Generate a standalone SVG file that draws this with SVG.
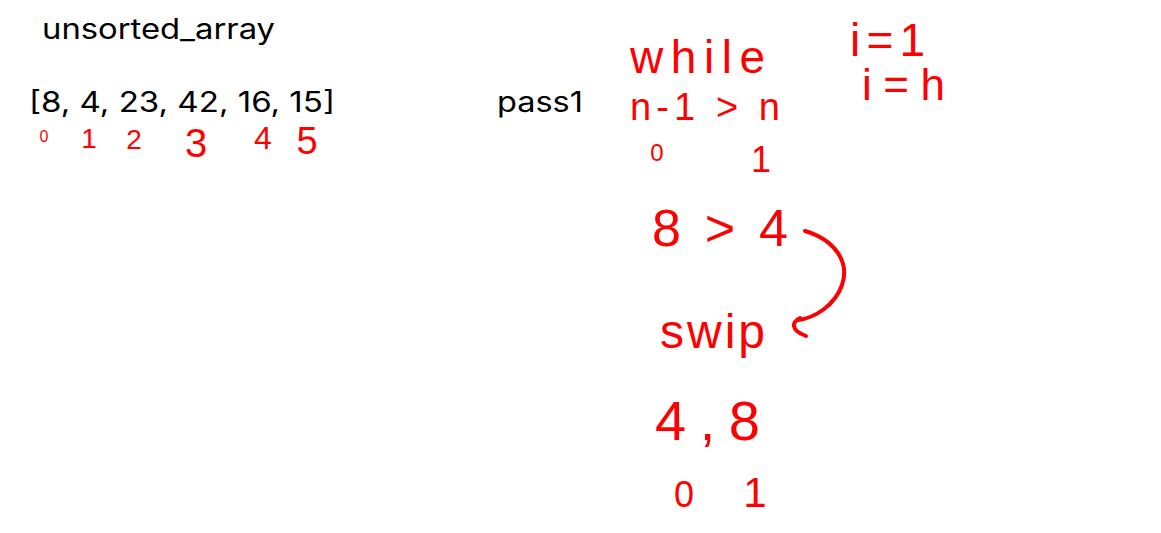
<svg xmlns="http://www.w3.org/2000/svg" width="1161" height="533" viewBox="0 0 1161 533">
<style>
.lbl{font-family:Inter,"Liberation Sans",sans-serif;font-size:28px;fill:#000}
.ink{font-family:"Liberation Sans",Arial,sans-serif;fill:#ff0000}
.stroke{fill:none;stroke:#ff0000;stroke-width:4;stroke-linecap:round;stroke-linejoin:round}
</style>
<rect width="1161" height="533" fill="#ffffff"/>
<g id="title"><text class="lbl" x="42" y="39" textLength="233" lengthAdjust="spacingAndGlyphs">unsorted_array</text></g>
<g id="array"><text class="lbl" x="29" y="112" textLength="306" lengthAdjust="spacingAndGlyphs">[8, 4, 23, 42, 16, 15]</text></g>
<g id="pass1"><text class="lbl" x="497" y="112" textLength="86" lengthAdjust="spacingAndGlyphs">pass1</text></g>
<g id="indices" class="ink" text-anchor="middle">
<text x="44" y="142" font-size="16">0</text>
<text x="89" y="148" font-size="28">1</text>
<text x="134" y="149" font-size="28">2</text>
<text x="196" y="157" font-size="40">3</text>
<text x="263" y="149" font-size="32">4</text>
<text x="307" y="154" font-size="38">5</text>
</g>
<g id="while"><text class="ink" x="630" y="73" font-size="46" textLength="135" lengthAdjust="spacing">while</text></g>
<g id="i1"><text class="ink" x="850" y="56" font-size="46" textLength="75" lengthAdjust="spacing">i=1</text></g>
<g id="ih"><text class="ink" x="862" y="100" font-size="44" textLength="83" lengthAdjust="spacing">i=h</text></g>
<g id="cond"><text class="ink" x="630" y="120" font-size="38" textLength="150" lengthAdjust="spacing">n-1 &gt; n</text></g>
<g id="idx01a" class="ink" text-anchor="middle">
<text x="657" y="161" font-size="24">0</text>
<text x="761" y="172" font-size="36">1</text>
</g>
<g id="compare"><text class="ink" x="652" y="246" font-size="52" textLength="136" lengthAdjust="spacing">8 &gt; 4</text></g>
<g id="swip"><text class="ink" x="660" y="348" font-size="48" textLength="105" lengthAdjust="spacing">swip</text></g>
<g id="result"><text class="ink" x="655" y="440" font-size="56" textLength="105" lengthAdjust="spacing">4,8</text></g>
<g id="idx01b" class="ink" text-anchor="middle">
<text x="684" y="507" font-size="36">0</text>
<text x="755" y="507" font-size="42">1</text>
</g>
<g id="connectors">
<path class="stroke" d="M805 231 C835 240 850 262 842 285 C835 305 815 318 798 320"/>
<path class="stroke" d="M800 318 C792 322 790 330 806 336"/>
</g>
</svg>
